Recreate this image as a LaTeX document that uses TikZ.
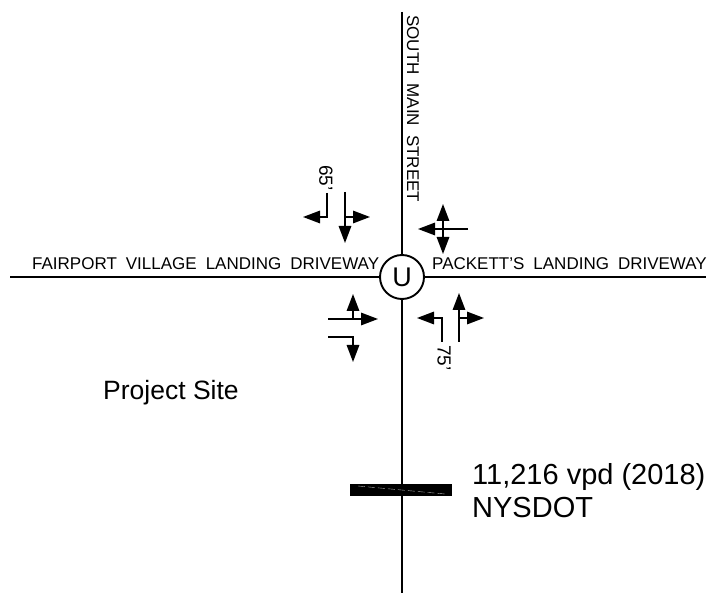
\documentclass[tikz,border=0pt]{standalone}
\usepackage{fontspec}
\setmainfont{Liberation Sans}
\usetikzlibrary{arrows.meta}
\tikzset{
  x=1pt,y=-1pt,
  road/.style={line width=1.9pt,black},
  move/.style={line width=1.5pt,black,-{Triangle[length=17pt,width=12.5pt]}},
  cad/.style={font=\fontsize{17}{17}\selectfont,inner sep=0pt},
  dist/.style={font=\fontsize{19}{19}\selectfont,inner sep=0pt,rotate=-90},
  lab/.style={font=\fontsize{26.5}{30}\selectfont,inner sep=0pt,anchor=west},
  big/.style={font=\fontsize{29}{33}\selectfont,inner sep=0pt,anchor=west},
}
\begin{document}
\begin{tikzpicture}
\useasboundingbox (0,0) rectangle (713,593);
\node[circle,draw,line width=1.9pt,minimum size=44pt,inner sep=0pt,font=\fontsize{27}{27}\selectfont] (U) at (402,277) {U};
\coordinate (rN) at (402,12);
\coordinate (rS) at (402,593);
\coordinate (rW) at (10,277);
\coordinate (rE) at (706,277);
\draw[road] (rN) -- (U.north);
\draw[road] (U.south) -- (rS);
\draw[road] (rW) -- (U.west);
\draw[road] (U.east) -- (rE);
\node[cad,rotate=-90,anchor=west] (sm) at (413,15) {SOUTH\hspace{9pt}MAIN\hspace{9pt}STREET};
\node[cad,anchor=west] (fv) at (32,264) {FAIRPORT\hspace{9pt}VILLAGE\hspace{9pt}LANDING\hspace{9pt}DRIVEWAY};
\node[cad,anchor=west] (pl) at (432,264) {PACKETT'S\hspace{9pt}LANDING\hspace{9pt}DRIVEWAY};
% northwest approach
\coordinate (a1) at (327,193); \coordinate (a2) at (327,217); \coordinate (a3) at (303,217);
\draw[move] (a1) -- (a2) -- (a3);
\coordinate (b1) at (345,192); \coordinate (b2) at (345,243); \coordinate (b3) at (345,217); \coordinate (b4) at (370,217);
\draw[move] (b1) -- (b2);
\draw[move] (b3) -- (b4);
\node[dist] (d65) at (326,178) {65'};
% east approach
\coordinate (c0) at (443,229); \coordinate (c1) at (443,204); \coordinate (c2) at (443,254);
\coordinate (c3) at (468,229); \coordinate (c4) at (418,229);
\draw[move] (c0) -- (c1);
\draw[move] (c0) -- (c2);
\draw[move] (c3) -- (c4);
% southwest approach
\coordinate (e1) at (328,319); \coordinate (e2) at (378,319); \coordinate (e3) at (353,319); \coordinate (e4) at (353,294);
\draw[move] (e1) -- (e2);
\draw[move] (e3) -- (e4);
\coordinate (f1) at (328,337); \coordinate (f2) at (353,337); \coordinate (f3) at (353,362);
\draw[move] (f1) -- (f2) -- (f3);
% southeast approach
\coordinate (g1) at (442,342); \coordinate (g2) at (442,318); \coordinate (g3) at (417,318);
\draw[move] (g1) -- (g2) -- (g3);
\coordinate (h1) at (459,342); \coordinate (h2) at (459,293); \coordinate (h3) at (459,318); \coordinate (h4) at (484,318);
\draw[move] (h1) -- (h2);
\draw[move] (h3) -- (h4);
\node[dist] (d75) at (444,358) {75'};
% count bar
\fill[black] (350,484) rectangle (452,496);
\draw[white!70!black,line width=0.4pt,dash pattern=on 7pt off 3pt] (358,486) -- (445,494);
\node[lab] (ps) at (103,393) {Project Site};
\node[big] (cnt) at (472,477) {11,216 vpd (2018)};
\node[big] (src) at (472,508) {NYSDOT};
\end{tikzpicture}
\end{document}
